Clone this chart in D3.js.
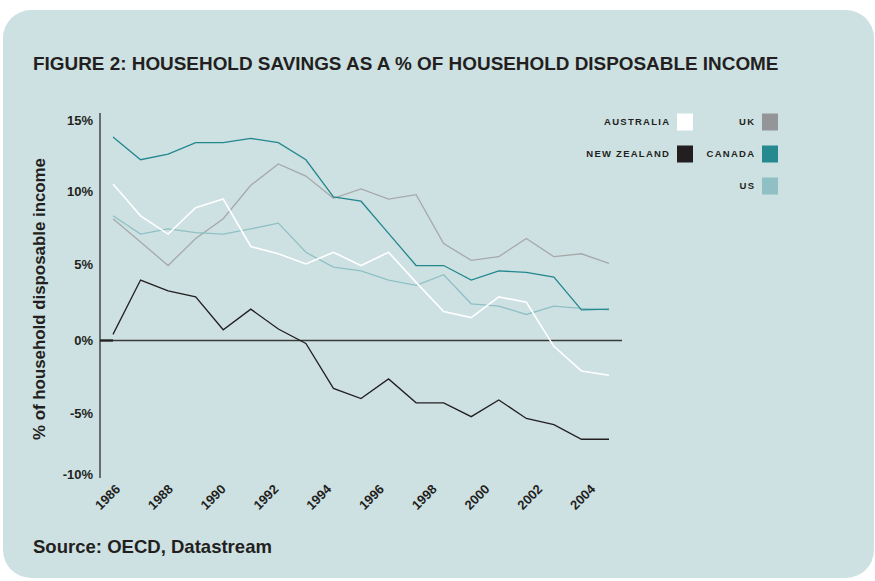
<!DOCTYPE html>
<html>
<head>
<meta charset="utf-8">
<script src="https://cdn.jsdelivr.net/npm/d3@7"></script>
<style>
  body { margin: 0; background: #fff; }
  text { font-family: "Liberation Sans", Arial, Helvetica, sans-serif; font-weight: bold; fill: #231f20; }
</style>
</head>
<body>
<svg id="chart" width="875" height="581"></svg>
<script>
// years on the x axis
const years = d3.range(1986, 2005);
const yearTicks = [1986, 1988, 1990, 1992, 1994, 1996, 1998, 2000, 2002, 2004];
const yTicks = [-10, -5, 0, 5, 10, 15];

// savings, % of disposable income
const australia = [10.5, 8.3, 7.05, 8.85, 9.45, 6.2, 5.7, 5.0, 5.8, 4.9, 5.8, 3.8, 1.9, 1.5, 2.85, 2.5, -0.4, -2.1, -2.4];
const newZealand = [0.4, 3.95, 3.25, 2.85, 0.7, 2.05, 0.75, -0.2, -3.3, -4.0, -2.65, -4.3, -4.3, -5.3, -4.1, -5.45, -5.95, -7.15, -7.15];
const uk = [8.1, 6.5, 4.9, 6.75, 8.1, 10.4, 11.9, 11.05, 9.5, 10.15, 9.45, 9.75, 6.4, 5.25, 5.5, 6.75, 5.5, 5.7, 5.05];
const canada = [13.8, 12.2, 12.6, 13.4, 13.4, 13.7, 13.4, 12.2, 9.6, 9.3, 7.1, 4.9, 4.9, 3.95, 4.55, 4.45, 4.15, 2.0, 2.05];
const us = [8.3, 7.05, 7.4, 7.15, 7.05, 7.4, 7.8, 5.8, 4.8, 4.55, 3.95, 3.6, 4.3, 2.4, 2.25, 1.7, 2.25, 2.1, 2.0];

const series = [
  {name: "UK", values: uk, color: "#a7a8aa"},
  {name: "US", values: us, color: "#8fc0c5"},
  {name: "CANADA", values: canada, color: "#23878e"},
  {name: "AUSTRALIA", values: australia, color: "#ffffff"},
  {name: "NEW ZEALAND", values: newZealand, color: "#231f20"}
];

const legendLeft = [
  {name: "AUSTRALIA", color: "#ffffff"},
  {name: "NEW ZEALAND", color: "#231f20"}
];
const legendRight = [
  {name: "UK", color: "#939598"},
  {name: "CANADA", color: "#26898f"},
  {name: "US", color: "#90bfc4"}
];

const svg = d3.select("#chart");

// panel
svg.append("rect")
  .attr("x", 3).attr("y", 10)
  .attr("width", 871).attr("height", 568)
  .attr("rx", 28)
  .attr("fill", "#cde1e2");

function fit(sel, w) {
  const fs = parseFloat(sel.attr("font-size"));
  const len = sel.node().getComputedTextLength();
  sel.attr("font-size", (fs * w / len).toFixed(2));
}

svg.append("text")
  .attr("x", 33).attr("y", 70)
  .attr("font-size", 16)
  .text("FIGURE 2: HOUSEHOLD SAVINGS AS A % OF HOUSEHOLD DISPOSABLE INCOME")
  .call(fit, 746);

svg.append("text")
  .attr("x", 33).attr("y", 553)
  .attr("font-size", 15)
  .text("Source: OECD, Datastream")
  .call(fit, 239);

// scales (the printed axis is not evenly spaced)
const x = d3.scaleLinear().domain([1986, 2004]).range([113, 609]);
const xLabel = d3.scaleLinear().domain([1986, 2004]).range([121, 596]);
const y = d3.scaleLinear()
  .domain([-10, -5, 0, 5, 10, 15])
  .range([474, 413, 340.5, 264, 191, 120]);

// y axis line
svg.append("line")
  .attr("x1", 100).attr("x2", 100)
  .attr("y1", 113).attr("y2", 478)
  .attr("stroke", "#231f20").attr("stroke-width", 1.2);

// zero line
svg.append("line")
  .attr("x1", 100).attr("x2", 622)
  .attr("y1", y(0)).attr("y2", y(0))
  .attr("stroke", "#3a3a3a").attr("stroke-width", 1.3);
svg.append("line")
  .attr("x1", 100).attr("x2", x(1986))
  .attr("y1", y(0)).attr("y2", y(0))
  .attr("stroke", "#231f20").attr("stroke-width", 2.2);

// y tick labels
svg.append("g").selectAll("text")
  .data(yTicks)
  .join("text")
  .attr("x", 93)
  .attr("y", d => y(d))
  .attr("dy", "0.36em")
  .attr("text-anchor", "end")
  .attr("font-size", 13)
  .text(d => d + "%");

// x tick labels
svg.append("g").selectAll("text")
  .data(yearTicks)
  .join("text")
  .attr("transform", d => `translate(${xLabel(d)}, 490) rotate(-45)`)
  .attr("text-anchor", "end")
  .attr("font-size", 13)
  .text(d => d);

// y axis title
svg.append("text")
  .attr("transform", "translate(45, 299) rotate(-90)")
  .attr("text-anchor", "middle")
  .attr("font-size", 15)
  .text("% of household disposable income")
  .call(fit, 282);

// lines
const line = d3.line()
  .x((d, i) => x(years[i]))
  .y(d => y(d));

svg.append("g").selectAll("path")
  .data(series)
  .join("path")
  .attr("d", d => line(d.values))
  .attr("fill", "none")
  .attr("stroke", d => d.color)
  .attr("stroke-width", d => d.name === "AUSTRALIA" ? 1.6 : 1.3)
  .attr("stroke-linejoin", "miter");

// legend
function legend(items, swatchX, startY) {
  const g = svg.append("g");
  items.forEach((it, i) => {
    const cy = startY + i * 32;
    g.append("rect")
      .attr("x", swatchX).attr("y", cy - 8.5)
      .attr("width", 16).attr("height", 17)
      .attr("fill", it.color);
    g.append("text")
      .attr("x", swatchX - 6.75).attr("y", cy)
      .attr("dy", "0.36em")
      .attr("text-anchor", "end")
      .attr("font-size", 9.5)
      .attr("letter-spacing", 1.25)
      .attr("fill", "#333")
      .text(it.name);
  });
}
legend(legendLeft, 677, 122);
legend(legendRight, 762, 122);
</script>
</body>
</html>
